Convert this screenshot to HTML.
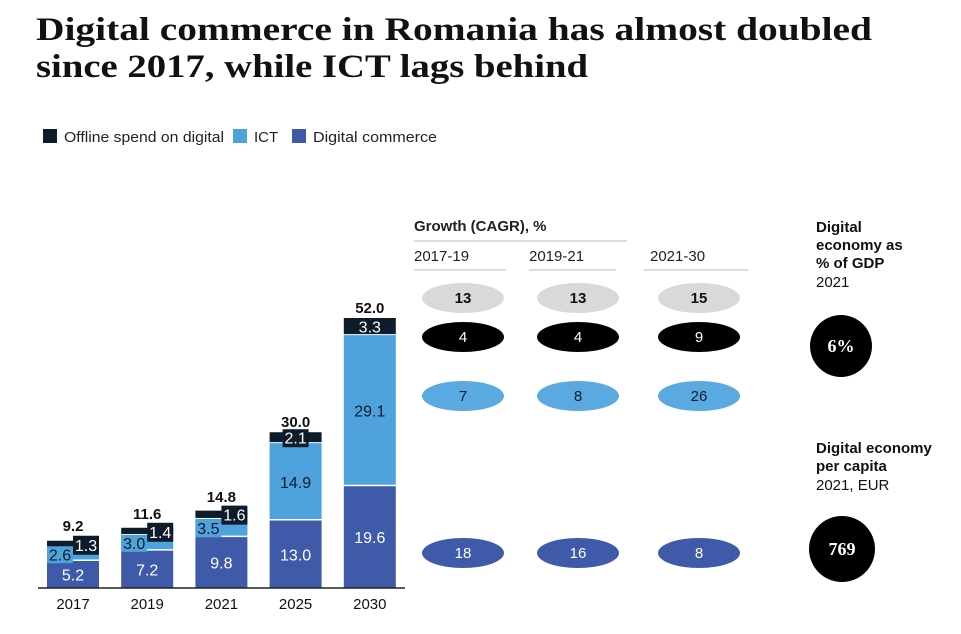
<!DOCTYPE html>
<html><head><meta charset="utf-8"><style>
body{margin:0;background:#fff;width:961px;height:629px;overflow:hidden;font-family:"Liberation Sans",sans-serif}
</style></head><body>
<svg width="961" height="629" font-family="Liberation Sans, sans-serif">
<g font-family="Liberation Serif, serif" font-weight="bold" font-size="33" fill="#111">
<text x="36" y="40" textLength="836" lengthAdjust="spacingAndGlyphs">Digital commerce in Romania has almost doubled</text>
<text x="36" y="77" textLength="552" lengthAdjust="spacingAndGlyphs">since 2017, while ICT lags behind</text>
</g>
<g font-size="15" fill="#222">
<rect x="43" y="129" width="14" height="14" fill="#0d1b2a"/>
<text x="64" y="142" textLength="160" lengthAdjust="spacingAndGlyphs">Offline spend on digital</text>
<rect x="233" y="129" width="14" height="14" fill="#4fa3dc"/>
<text x="254" y="142">ICT</text>
<rect x="292" y="129" width="14" height="14" fill="#3f5aa8"/>
<text x="313" y="142" textLength="124" lengthAdjust="spacingAndGlyphs">Digital commerce</text>
</g>
<g id="bars"></g>
<line x1="38" x2="405" y1="588" y2="588" stroke="#222" stroke-width="1.5"/>
<g font-size="15" fill="#222">
<text x="414" y="231" font-weight="bold">Growth (CAGR), %</text>
<line x1="414" x2="627" y1="241" y2="241" stroke="#bbb"/>
</g>
<g id="growth"></g>
<g font-size="15" fill="#111">
<text x="816" y="232" font-weight="bold">Digital</text>
<text x="816" y="250" font-weight="bold">economy as</text>
<text x="816" y="268" font-weight="bold">% of GDP</text>
<text x="816" y="287">2021</text>
<circle cx="841" cy="346" r="31" fill="#000"/>
<text x="841" y="352" text-anchor="middle" fill="#fff" font-family="Liberation Serif, serif" font-weight="bold" font-size="18">6%</text>
</g>
<g font-size="15" fill="#111">
<text x="816" y="453" font-weight="bold">Digital economy</text>
<text x="816" y="471" font-weight="bold">per capita</text>
<text x="816" y="490">2021, EUR</text>
<circle cx="842" cy="549" r="33" fill="#000"/>
<text x="842" y="555" text-anchor="middle" fill="#fff" font-family="Liberation Serif, serif" font-weight="bold" font-size="18">769</text>
</g>
</svg>
<script>
const years=["2017","2019","2021","2025","2030"];
const commerce=[5.2,7.2,9.8,13.0,19.6];
const ict=[2.6,3.0,3.5,14.9,29.1];
const offline=[1.3,1.4,1.6,2.1,3.3];
const totals=[9.2,11.6,14.8,30.0,52.0];
const periods=["2017-19","2019-21","2021-30"];
const gTotal=[13,13,15];
const gOffline=[4,4,9];
const gIct=[7,8,26];
const gCommerce=[18,16,8];

const NS="http://www.w3.org/2000/svg";
const base=588,scale=270/52,x0=47,pitch=74.2,bw=52;
const y=v=>base-v*scale;
function mk(p,t,a,txt){const e=document.createElementNS(NS,t);for(const k in a)e.setAttribute(k,a[k]);if(txt!=null)e.textContent=txt;p.appendChild(e);return e;}
const bars=document.getElementById('bars');
years.forEach((yr,i)=>{
 const x=x0+i*pitch;
 const g=mk(bars,'g',{});
 
 
 const c0=base,c1=y(commerce[i]),c2=y(commerce[i]+ict[i]),c3=y(commerce[i]+ict[i]+offline[i]);
 const r1=mk(g,'rect',{x:x,y:c1,width:bw,height:c0-c1,fill:'#3f5aa8'});
 
 
 const r2=mk(g,'rect',{x:x,y:c2,width:bw,height:c1-c2-1.5,fill:'#4fa3dc'});
 
 
 const r3=mk(g,'rect',{x:x,y:c3,width:bw,height:c2-c3-1,fill:'#0d1b2a'});
 
 
 const cx=x+bw/2;
 mk(g,'text',{x:cx,y:(c0+c1)/2+6,'text-anchor':'middle',fill:'#fff','font-size':16},commerce[i].toFixed(1));
 const small=(c1-c2)<30;
 if(small){
  mk(g,'rect',{x:x,y:(c1+c2)/2-8,width:bw/2,height:17,fill:'#4fa3dc'});
  mk(g,'text',{x:x+bw/4,y:(c1+c2)/2+6,'text-anchor':'middle',fill:'#0d1b2a','font-size':16},ict[i].toFixed(1));
  mk(g,'rect',{x:x+bw/2,y:c3-5,width:bw/2,height:19,fill:'#0d1b2a'});
  mk(g,'text',{x:x+bw*0.75,y:c3+10,'text-anchor':'middle',fill:'#fff','font-size':16},offline[i].toFixed(1));
 }else{
  mk(g,'text',{x:cx,y:(c1+c2)/2+6,'text-anchor':'middle',fill:'#0d1b2a','font-size':16},ict[i].toFixed(1));
  if(c2-c3<14) mk(g,'rect',{x:x+bw/4,y:c3-3,width:bw/2,height:18,fill:'#0d1b2a'});
  mk(g,'text',{x:cx,y:(c2+c3)/2+6,'text-anchor':'middle',fill:'#fff','font-size':16},offline[i].toFixed(1));
 }
 const tt=mk(g,'text',{x:cx,y:y(totals[i])-(small?9:5),'text-anchor':'middle','font-weight':'bold','font-size':15,fill:'#111'},totals[i].toFixed(1));
 
 
 const xl=mk(g,'text',{x:cx,y:609,'text-anchor':'middle','font-size':15,fill:'#111'},yr);
 
 
});
const gr=document.getElementById('growth');
const cols=[463,578,699],lineX=[[414,506],[529,616],[644,748]],labX=[414,529,650];
const rows=[[gTotal,298,'#d9d9d9','#111',true],[gOffline,337,'#000','#fff',false],[gIct,396,'#5aa9e0','#0d1b2a',false],[gCommerce,553,'#3f5aa8','#fff',false]];
periods.forEach((p,j)=>{
 const t=mk(gr,'text',{x:labX[j],y:261,'font-size':15,fill:'#222'},p);
 
 
 mk(gr,'line',{x1:lineX[j][0],x2:lineX[j][1],y1:270,y2:270,stroke:'#bbb'});
 rows.forEach((r,k)=>{
  const e=mk(gr,'ellipse',{cx:cols[j],cy:r[1],rx:41,ry:15,fill:r[2]});
  
  
  mk(gr,'text',{x:cols[j],y:r[1]+5,'text-anchor':'middle','font-size':15,fill:r[3],'font-weight':r[4]?'bold':'normal'},r[0][j]);
 });
});
</script>
</body></html>
